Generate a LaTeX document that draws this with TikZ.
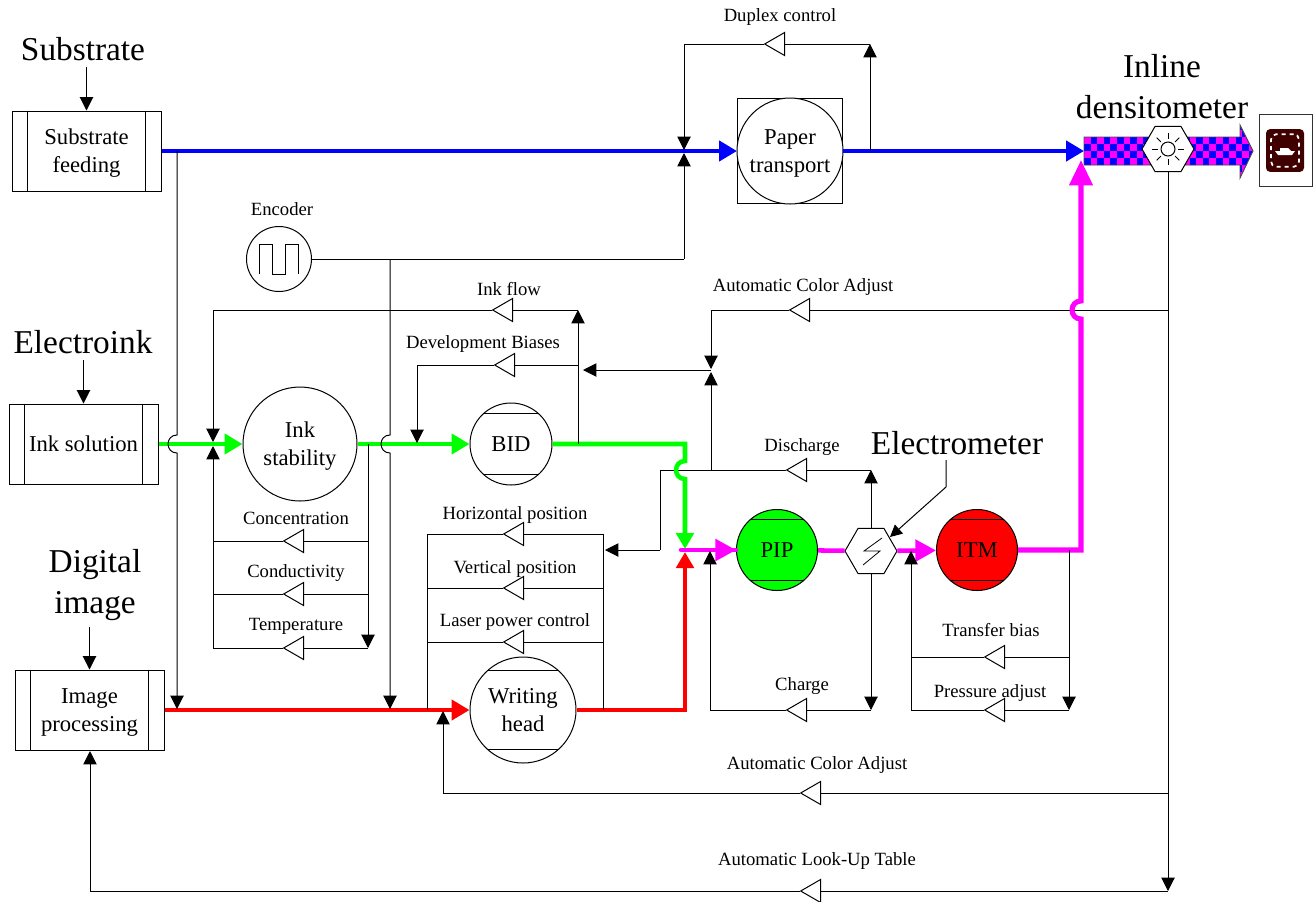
\documentclass[tikz,border=0pt]{standalone}
\usepackage{fontspec}
\setmainfont{Liberation Serif}
\usetikzlibrary{calc,arrows.meta,shapes.geometric}
\definecolor{PressBlue}{RGB}{0,0,255}
\definecolor{PressGreen}{RGB}{0,255,0}
\definecolor{PressRed}{RGB}{255,0,0}
\definecolor{PressMagenta}{RGB}{255,0,255}
\definecolor{PressMaroon}{RGB}{64,0,0}
\tikzset{
  wire/.style={line width=0.75pt,black},
  wiretip/.style={wire,-{Triangle[length=10pt,width=10pt]}},
  fat/.style={line width=3.4pt,-{Triangle[length=13.5pt,width=15pt]}},
  fatjoin/.style={line width=3.4pt,-{Triangle[length=12pt,width=13pt]}},
  ball/.style={circle,draw,line width=0.75pt,fill=white,inner sep=0pt,align=center,
    font=\fontsize{17}{21}\selectfont,minimum size=#1*0.75pt},
  pbox/.style={rectangle,draw,line width=0.75pt,inner sep=0pt,align=center,
    font=\fontsize{17}{21}\selectfont,minimum width=111.75pt,minimum height=60pt},
  valve/.style={regular polygon,regular polygon sides=3,shape border rotate=90,draw,
    line width=0.75pt,fill=white,inner sep=0pt,minimum size=20pt},
  sensor/.style={regular polygon,regular polygon sides=6,draw,line width=0.75pt,
    fill=white,inner sep=0pt,minimum size=39pt},
  lbl/.style={inner sep=0pt,font=\fontsize{14}{16}\selectfont},
  biglbl/.style={inner sep=0pt,align=center,font=\fontsize{25}{31}\selectfont},
  hop/.style={out=180,in=180,looseness=1.7}
}
\newcommand{\hopat}[1]{-- ($(#1)+(0,-9)$) to[hop] ($(#1)+(0,9)$)}
\newcommand{\hopup}[1]{-- ($(#1)+(0,9)$) to[hop] ($(#1)+(0,-9)$)}
\newcommand{\topstrut}{\rule{0pt}{15.5pt}}
\begin{document}
\begin{tikzpicture}[x=0.75pt,y=-0.75pt]
  \useasboundingbox (0,0) rectangle (1314,901);

  % Blocks
  \node[pbox] (feed) at (86.5,151) {\topstrut Substrate\\feeding};
  \node[pbox] (inksol) at (83.5,444) {Ink solution};
  \node[pbox] (imgproc) at (89.5,710) {\topstrut Image\\processing};
  \node[rectangle,draw,line width=0.75pt,minimum size=78.75pt,inner sep=0pt] (paperbox) at (790,151) {};
  \node[ball=106] (paper) at (790,151) {\topstrut Paper\\transport};
  \node[ball=65] (encoder) at (279,259) {};
  \node[ball=114] (stab) at (300,444) {\topstrut Ink\\stability};
  \node[ball=82] (bid) at (511,444) {BID};
  \node[ball=106] (writer) at (523,710) {Writing\\head};
  \node[ball=81,fill=PressGreen] (pip) at (777,550) {PIP};
  \node[ball=81,fill=PressRed] (itm) at (977,550) {ITM};
  \node[sensor] (hexe) at (871,551) {};

  % Side bars of the feed blocks, chords of the drums
  \foreach \nm in {feed,inksol,imgproc}{
    \draw[line width=0.75pt] ($(\nm.north west)+(16,0)$) -- ($(\nm.south west)+(16,0)$);
    \draw[line width=0.75pt] ($(\nm.north east)+(-16,0)$) -- ($(\nm.south east)+(-16,0)$);
  }
  \foreach \nm in {bid,writer,pip,itm}{
    \draw[line width=0.75pt] (\nm.132) -- (\nm.48);
    \draw[line width=0.75pt] (\nm.-132) -- (\nm.-48);
  }
  % Encoder pulse
  \draw[line width=0.75pt] ($(encoder)+(-20,15)$) -- ++(0,-30) -- ++(13,0) -- ++(0,30) -- ++(13,0)
    -- ++(0,-30) -- ++(13,0) -- ++(0,30);

  % Valves
  \foreach \nm/\px/\py in {vdup/778/44,vflow/506/310,vdev/508/365,vacatop/803/310,
    vconc/297/541,vcond/297/594,vtemp/297/648,vhor/517/534,vver/517/588,vlas/517/642,
    vdis/800/470,vcharge/800/710,vtrans/998/657,vpress/998/710,vacabot/814/793,vlut/814/891}{
    \node[valve] (\nm) at (\px,\py) {};
  }

  % Labels
  \foreach \nm/\px/\py/\txt in {
    ldup/780/17/Duplex control,
    lenc/282/209/Encoder,
    lflow/509/289/Ink flow,
    ldev/483/344/Development Biases,
    lacatop/803/287/Automatic Color Adjust,
    ldis/802/447/Discharge,
    lconc/296/518/Concentration,
    lcond/296/573/Conductivity,
    ltemp/296/626/Temperature,
    lhor/515/515/Horizontal position,
    lver/515/569/Vertical position,
    llas/515/622/Laser power control,
    lcharge/802/686/Charge,
    ltrans/991/630/Transfer bias,
    lpress/990/693/Pressure adjust,
    lacabot/817/765/Automatic Color Adjust,
    llut/817/861/Automatic Look-Up Table}{
    \node[lbl] (\nm) at (\px,\py) {\txt};
  }
  \node[biglbl] (lsub) at (83,49) {Substrate};
  \node[biglbl] (link) at (83,342) {Electroink};
  \node[biglbl] (ldig) at (95,585) {Digital\\image};
  \node[biglbl] (lden) at (1162,86.5) {Inline\\densitometer};
  \node[biglbl] (lele) at (957,443) {Electrometer};

  % Junctions and corners
  \foreach \nm/\px/\py in {
    subtop/177/151,subend/177/709,hopa/177/444,
    enctee/390/259,encturn/684/259,encend/684/153,encdown/390/709,hopb/390/444,
    dupup/870/151,dupcorner/870/44,dupleft/684/44,dupend/684/150,
    flowup/578/444,flowcorner/578/310,flowleft/213/310,flowend/213/442,
    devtee/578/365,devleft/417/365,devend/417/443,
    stabtee/368/444,conctee/368/541,condtee/368/594,stabend/368/648,
    concleft/213/541,condleft/213/594,templeft/213/648,tempend/213/446,
    horul/427/534,horur/603/534,hordl/427/710,hordr/603/710,
    verl/427/588,verr/603/588,lasl/427/642,lasr/603/642,
    discorner/871/470,disleft/660/470,disdown/660/550,disend/605/550,
    distee/711/470,disup/711/372,acaend/711/369,acacorner/711/310,
    midtee/711/370,midend/583/370,
    acatee/1168/310,denbot/1168/891,
    chargecorner/871/710,chargeleft/710/710,chargeend/710/551,
    itmtee/1069/550,itmend/1069/710,transtee/1069/657,transleft/911/657,
    pressleft/911/710,pressend/911/551,
    abtee/1168/793,ableft/443/793,abend/443/711,
    luttee/1168/891,lutleft/90/891,lutend/90/751,
    grncorner/685/444,grnend/685/549,hopg/685/470,
    redcorner/685/710,redend/685/552,
    magstart/681/550,magcorner/1081/550,magend/1081/160,hopm/1081/310,
    blueend/1084/151,
    eleca/946/460,elecb/946/487,elecc/890/537}{
    \coordinate (\nm) at (\px,\py);
  }

  % Thin lines that pass under a hop
  \draw[wire] (acatee) -- (vacatop) -- (acacorner);
  \draw[wiretip] (acacorner) -- (acaend);
  \draw[wire] (discorner) -- (vdis) -- (disleft) -- (disdown);
  \draw[wiretip] (disdown) -- (disend);

  % Checkered strip of the densitometer
  \begin{scope}
    \clip (1084,137) -- (1240,137) -- (1240,125) -- (1253,151) -- (1240,178) -- (1240,165) -- (1084,165) -- cycle;
    \fill[PressBlue] (1084,120) rectangle (1255,180);
    \foreach \i in {0,...,25}{
      \foreach \j in {0,...,8}{
        \pgfmathtruncatemacro{\cellodd}{mod(\i+\j,2)}
        \ifnum\cellodd=0
          \fill[PressMagenta] (1084+\i*6.6,123+\j*7) rectangle (1084+\i*6.6+6.6,123+\j*7+7);
        \fi
      }
    }
  \end{scope}
  \draw[line width=0.7pt,black!70] (1084,137) -- (1240,137) -- (1240,125) -- (1253,151) -- (1240,178) -- (1240,165) -- (1084,165) -- cycle;
  \node[sensor] (hexd) at (1168,149) {};
  \draw[line width=0.75pt] (hexd) circle (7);
  \foreach \a in {0,45,...,315}{
    \draw[line width=0.6pt] ($(hexd)+(\a:10)$) -- ($(hexd)+(\a:16)$);
  }
  \draw[line width=0.6pt] ($(hexe)+(11,-13)$) -- ($(hexe)+(-7,0)$) -- ($(hexe)+(9,0)$) -- ($(hexe)+(-8,14)$);

  % Thick lines
  \draw[fat,PressBlue] (feed) -- (paperbox);
  \draw[fat,PressBlue] (paperbox) -- (blueend);
  \draw[fat,PressGreen] (inksol) -- (stab);
  \draw[fat,PressGreen] (stab) -- (bid);
  \draw[fat,PressRed] (imgproc) -- (writer);
  \draw[line width=3.4pt,PressMagenta,line cap=round] (magstart) -- (pip);
  \draw[line width=3.4pt,-{Triangle[length=15.5pt,width=16pt]},PressMagenta] (magstart) -- (pip);
  \draw[line width=3.4pt,PressMagenta] (pip) -- (hexe);
  \draw[line width=3.4pt,-{Triangle[length=15.5pt,width=16pt]},PressMagenta] (hexe) -- (itm);
  \draw[line width=3.8pt,PressMagenta,-{Triangle[length=19pt,width=17pt]}] (itm) -- (magcorner) \hopup{hopm} -- (magend);
  \draw[fatjoin,PressGreen] (bid) -- (grncorner) \hopat{hopg} -- (grnend);
  \draw[fatjoin,PressRed] (writer) -- (redcorner) -- (redend);

  % Input arrows
  \draw[wiretip,shorten <=4.5pt] (lsub.south -| feed.north) -- (feed.north);
  \draw[wiretip,shorten <=4.5pt] (link.south -| inksol.north) -- (inksol.north);
  \draw[wiretip,shorten <=4.5pt] (ldig.south -| imgproc.north) -- (imgproc.north);

  % Substrate and encoder signals
  \draw[wiretip] (subtop) \hopat{hopa} -- (subend);
  \draw[wire] (encoder) -- (encturn);
  \draw[wiretip] (encturn) -- (encend);
  \draw[wiretip] (enctee) \hopat{hopb} -- (encdown);

  % Duplex loop
  \draw[wiretip] (dupup) -- (dupcorner);
  \draw[wire] (dupcorner) -- (vdup) -- (dupleft);
  \draw[wiretip] (dupleft) -- (dupend);

  % Ink loops
  \draw[wiretip] (flowup) -- (flowcorner);
  \draw[wire] (flowcorner) -- (vflow) -- (flowleft);
  \draw[wiretip] (flowleft) -- (flowend);
  \draw[wire] (devtee) -- (vdev) -- (devleft);
  \draw[wiretip] (devleft) -- (devend);
  \draw[wiretip] (stabtee) -- (stabend);
  \draw[wire] (conctee) -- (vconc) -- (concleft);
  \draw[wire] (condtee) -- (vcond) -- (condleft);
  \draw[wire] (stabend) -- (vtemp) -- (templeft);
  \draw[wiretip] (templeft) -- (tempend);

  % Writing head loops
  \draw[wire] (hordl) -- (horul) -- (vhor) -- (horur) -- (hordr);
  \draw[wire] (verl) -- (vver) -- (verr);
  \draw[wire] (lasl) -- (vlas) -- (lasr);

  % Charge, discharge, transfer
  \draw[wiretip] (hexe) -- (discorner);
  \draw[wiretip] (distee) -- (disup);
  \draw[wiretip] (midtee) -- (midend);
  \draw[wiretip] (hexe) -- (chargecorner);
  \draw[wire] (chargecorner) -- (vcharge) -- (chargeleft);
  \draw[wiretip] (chargeleft) -- (chargeend);
  \draw[wiretip] (itmtee) -- (itmend);
  \draw[wire] (transtee) -- (vtrans) -- (transleft);
  \draw[wire] (itmend) -- (vpress) -- (pressleft);
  \draw[wiretip] (pressleft) -- (pressend);

  % Densitometer feedback
  \draw[wiretip] (hexd) -- (denbot);
  \draw[wire] (abtee) -- (vacabot) -- (ableft);
  \draw[wiretip] (ableft) -- (abend);
  \draw[wire] (luttee) -- (vlut) -- (lutleft);
  \draw[wiretip] (lutleft) -- (lutend);

  % Pointer to the electrometer
  \draw[line width=0.75pt,-{Triangle[length=9pt,width=9pt]}] (eleca) -- (elecb) -- (elecc);

  % Monitor icon
  \node[rectangle,draw,line width=0.75pt,black!80,fill=white,minimum width=39.75pt,minimum height=54pt,inner sep=0pt] (iconbox) at (1285.5,150) {};
  \node[rectangle,fill=PressMaroon,rounded corners=3pt,minimum width=28.5pt,minimum height=32pt,inner sep=0pt] (iconbg) at (1285,150.5) {};
  \node[rectangle,draw=white,dashed,line width=1.3pt,rounded corners=4pt,minimum width=21pt,minimum height=24.5pt,inner sep=0pt] (icondash) at (1285,150.5) {};
  \fill[white] (1275,151) -- (1295,151) -- (1292,155) -- (1278,155) -- cycle;
  \fill[white] (1280,148) -- (1288,148) -- (1291,151) -- (1280,151) -- cycle;
\end{tikzpicture}
\end{document}
